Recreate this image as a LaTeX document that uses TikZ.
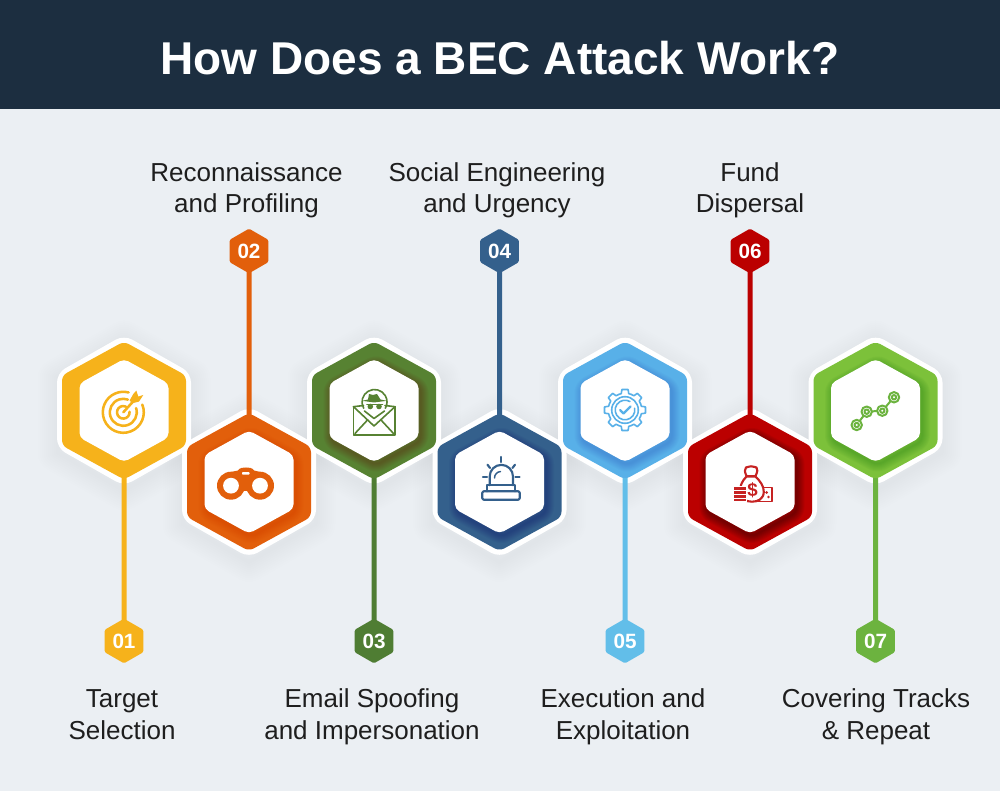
\documentclass[tikz,border=0pt]{standalone}
\usepackage{fontspec}
\setmainfont{Liberation Sans}
\usetikzlibrary{shapes.geometric}
\definecolor{bgc}{HTML}{EBEFF3}
\definecolor{headc}{HTML}{1C2E40}
\definecolor{cyel}{HTML}{F6B21B}
\definecolor{cora}{HTML}{E25F0B}
\definecolor{cgrn}{HTML}{578232}
\definecolor{cnav}{HTML}{34608C}
\definecolor{cblu}{HTML}{58B0E8}
\definecolor{cred}{HTML}{BB0000}
\definecolor{clim}{HTML}{7CC13A}
\definecolor{lblu}{HTML}{62BEE9}
\definecolor{llim}{HTML}{6CB33F}
\definecolor{lgrn}{HTML}{4F7D33}
\definecolor{micon}{HTML}{C62222}
\definecolor{txtc}{HTML}{1E1E1E}
\newcommand{\hexP}[3]{(0,-#2) -- (#1,-#3) -- (#1,#3) -- (0,#2) -- (-#1,#3) -- (-#1,-#3) -- cycle}
\newcommand{\softshadow}[1]{\begin{scope}[shift={(#1)}]
  \foreach \k in {1,...,10}{\path[draw=black,draw opacity=.0055,line width={\k*3pt},line join=round,shift={(0,5)}] \hexP{66.5}{75}{37};}
\end{scope}}
\newcommand{\whitehex}[1]{\path[shift={(#1)},fill=white,rounded corners=7pt] \hexP{67}{75.5}{37.5};}
\newcommand{\bighex}[4]{\begin{scope}[shift={(#1)}]
  \begin{scope}[rounded corners=4pt]
  \clip \hexP{62}{69}{35};
  \fill[#2] (-70,-80) rectangle (70,80);
  \foreach \k in {1,...,8}{\path[draw=#3,draw opacity=#4,line width={\k*1.5pt},line join=round,shift={(2,3.5)}] \hexP{44.5}{51}{27};}
  \end{scope}
  \path[fill=white,rounded corners=3.5pt] \hexP{44.5}{51.5}{27};
\end{scope}}
\tikzset{
  hexanchor/.style={inner sep=0pt,minimum size=0pt,outer sep=0pt},
  numhex/.style={regular polygon,regular polygon sides=6,shape border rotate=90,minimum size=33.5pt,inner sep=0pt,outer sep=0pt,rounded corners=1pt,fill=#1,text=white,font=\fontsize{15.5}{18}\selectfont\bfseries},
  conn/.style={draw=#1,line width=3.75pt,shorten <=-2pt},
  lbl/.style={align=center,text=txtc,font=\fontsize{19.5}{23.6}\selectfont},
  ico/.style={draw=#1,line width=1.2pt,line cap=round,line join=round},
}
\begin{document}
\begin{tikzpicture}[x=.75pt,y=-.75pt]
\useasboundingbox (0,0) rectangle (1000,791);
\fill[bgc] (0,0) rectangle (1000,791);
\fill[headc] (0,0) rectangle (1000,109);
\node[text=white,font=\fontsize{34.5}{40}\selectfont\bfseries] (title) at (500,58) {How Does a BEC Attack Work?};
% anchors
\node[hexanchor] (h1) at (124,410.5) {};
\node[hexanchor] (h2) at (249,482) {};
\node[hexanchor] (h3) at (374,410.5) {};
\node[hexanchor] (h4) at (499.5,482) {};
\node[hexanchor] (h5) at (625,410.5) {};
\node[hexanchor] (h6) at (750,482) {};
\node[hexanchor] (h7) at (875.5,410.5) {};
% shadows and white outlines
\softshadow{h1}\softshadow{h2}\softshadow{h3}\softshadow{h4}\softshadow{h5}\softshadow{h6}\softshadow{h7}
\whitehex{h1}\whitehex{h2}\whitehex{h3}\whitehex{h4}\whitehex{h5}\whitehex{h6}\whitehex{h7}
% number badges
\node[numhex=cyel] (n1) at (124,641) {01};
\node[numhex=cora] (n2) at (249,251) {02};
\node[numhex=lgrn] (n3) at (374,641) {03};
\node[numhex=cnav] (n4) at (499.5,251) {04};
\node[numhex=lblu] (n5) at (625,641) {05};
\node[numhex=cred] (n6) at (750,251) {06};
\node[numhex=llim] (n7) at (875.5,641) {07};
% connectors
\draw[conn=cyel] (n1) -- (h1);
\draw[conn=cora] (n2) -- (h2);
\draw[conn=lgrn] (n3) -- (h3);
\draw[conn=cnav] (n4) -- (h4);
\draw[conn=lblu] (n5) -- (h5);
\draw[conn=cred] (n6) -- (h6);
\draw[conn=llim] (n7) -- (h7);
% coloured hexagons
\bighex{h1}{cyel}{black}{0}
\bighex{h2}{cora}{red!70!black}{.015}
\bighex{h3}{cgrn}{black!60!red}{.04}
\bighex{h4}{cnav}{blue!40!black}{.04}
\bighex{h5}{cblu}{blue!60!black}{.018}
\bighex{h6}{cred}{black}{.05}
\bighex{h7}{clim}{green!40!black}{.035}
% labels
\node[lbl] (l1) at (122,717) {\strut Target\\\strut Selection};
\node[lbl] (l2) at (246.5,190.5) {\strut Reconnaissance\\\strut and Profiling};
\node[lbl] (l3) at (372,717) {\strut Email Spoofing\\\strut and Impersonation};
\node[lbl] (l4) at (497,190.5) {\strut Social Engineering\\\strut and Urgency};
\node[lbl] (l5) at (623,717) {\strut Execution and\\\strut Exploitation};
\node[lbl] (l6) at (750,190.5) {\strut Fund\\\strut Dispersal};
\node[lbl] (l7) at (876,717) {\strut Covering Tracks\\\strut \& Repeat};
% icon 1: target
\begin{scope}[shift={(123.3,412.3)},ico=cyel,line width=1.9pt]
  \draw (-22:20.5) arc[start angle=-22,end angle=285,radius=20.5];
  \draw (-18:13.5) arc[start angle=-18,end angle=290,radius=13.5];
  \draw (-5:6.3) arc[start angle=-5,end angle=295,radius=6.3];
  \draw (0,0) -- (10,-11);
  \fill[cyel,draw=none] (6.3,-11.7) -- (10,-18.3) -- (13,-21.7) -- (15,-15.7) -- (20,-17.3) -- (15.7,-10.7) -- (9,-9) -- cycle;
\end{scope}
% icon 2: binoculars
\begin{scope}
  \fill[cora] (231,472) -- (238,470.5) .. controls (240,467.5) and (243,467.5) .. (246,467.5) .. controls (249,467.5) and (252,467.5) .. (254,470.5) -- (260,472) -- (256,486) -- (247,491) -- (244,491) -- (235,486) -- cycle;
  \fill[cora] (231,485.7) circle[radius=14];
  \fill[cora] (260,485.7) circle[radius=14];
  \fill[white] (231,485.7) circle[radius=7.9];
  \fill[white] (260,485.7) circle[radius=7.9];
  \fill[white,rounded corners=.5pt] (242,472.2) rectangle (249.5,474.6);
\end{scope}
% icon 3: spy envelope
\begin{scope}[ico=cgrn]
  \draw (363.7,408.25) arc[start angle=150,end angle=390,radius=12.5];
  \draw (353.5,406.7) -- (374,426) -- (395,406.7);
  \draw (353.5,406.7) -- (353.5,435) -- (395,435) -- (395,406.7);
  \draw (353.5,406.7) -- (363.5,405.5);
  \draw (395,406.7) -- (385,405.5);
  \draw (364.5,411) -- (374,418.5) -- (384.5,411);
  \draw (355,433.5) -- (367.5,420);
  \draw (393.5,433.5) -- (381,420);
  \fill[cgrn,draw=none] (362.3,400.8) -- (368,399.5) -- (369,394) -- (373,395) -- (377,394) -- (380.5,399.5) -- (386.7,400.8) -- (374,402.5) -- cycle;
  \fill[cgrn,draw=none] (370.3,406.5) circle[radius=2.8];
  \fill[cgrn,draw=none] (379,406.5) circle[radius=2.8];
  \draw (367,404.7) -- (382.5,404.7);
\end{scope}
% icon 4: siren
\begin{scope}[ico=cnav,line width=1.6pt]
  \draw (489.7,485.3) -- (489.7,476.5) arc[start angle=180,end angle=360,radius=11.65] -- (513,485.3);
  \draw[line width=1.1pt] (494.5,478) arc[start angle=180,end angle=265,radius=6.5];
  \draw (487.3,491.3) -- (487.3,485.3) -- (515,485.3) -- (515,491.3);
  \draw[rounded corners=1pt] (482.3,491.3) rectangle (519.7,499.7);
  \draw (501.3,457) -- (501.3,462);
  \draw (487.5,464.7) -- (490,468);
  \draw (515,464.7) -- (512.5,468);
  \draw (483,477) -- (487,477);
  \draw (515.5,477) -- (519.5,477);
\end{scope}
% icon 5: gear
\begin{scope}[shift={(625,410)},ico=cblu]
  \foreach \a in {0,45,...,315}{
    \draw (\a-22.5:16.8) -- (\a-13:16.8) -- (\a-8.5:20.7) -- (\a+8.5:20.7) -- (\a+13:16.8) -- (\a+22.5:16.8);
  }
  \draw (0,0) circle[radius=13.3];
  \draw (-10:9.8) arc[start angle=-10,end angle=300,radius=9.8];
  \draw[line width=1.6pt] (-5,0) -- (-1.5,3.5) -- (5.5,-3.5);
\end{scope}
% icon 6: money bag
\begin{scope}[ico=micon]
  \draw[line width=1.3pt] (758,487.5) rectangle (771.7,501.5);
  \fill[micon,draw=none] (766.5,492.5) circle[radius=1.5];
  \fill[micon,draw=none] (768.5,497) circle[radius=1.3];
  \draw[fill=white,line width=1.6pt] (746.5,476.5) .. controls (742,481) and (739.8,486) .. (740,492) .. controls (740.3,499) and (746,501.7) .. (752,501.7) .. controls (758,501.7) and (763.5,499) .. (763.8,492) .. controls (764,486) and (760,481) .. (755.5,476.5) -- cycle;
  \draw[line width=1.6pt] (746.5,476) .. controls (744.5,472) and (744.5,469) .. (746,467.5) .. controls (748,466) and (749,467.5) .. (751,466.3) .. controls (753,467.5) and (755,466) .. (756.5,467.5) .. controls (758,469) and (757.5,472) .. (755.5,476);
  \draw[line width=2.2pt] (746.5,476) -- (755.5,476);
  \fill[white,draw=none] (733,486.5) rectangle (746.5,502.5);
  \fill[micon,draw=none] (734,487.5) rectangle (745.5,490);
  \fill[micon,draw=none] (734,491.3) rectangle (745.5,493.8);
  \fill[micon,draw=none] (734,495.1) rectangle (745.5,497.6);
  \fill[micon,draw=none] (734,498.9) rectangle (745.5,501.5);
  \node[text=micon,inner sep=0pt,font=\fontsize{14}{16}\selectfont\bfseries] (dollar) at (752.5,490) {\$};
\end{scope}
% icon 7: chain
\begin{scope}[ico=llim,line width=1.5pt]
  \foreach \cx/\cy in {856.7/425,866.7/411.7,882.3/410.7,894/397.3}{
    \draw (\cx,\cy) circle[radius=5.2];
    \draw (\cx,\cy) circle[radius=2.2];
  }
  \draw (859.8,420.8) -- (863.6,415.8);
  \draw (871.9,411.4) -- (877.1,411);
  \draw (885.8,406.8) -- (890.5,401.2);
\end{scope}
\end{tikzpicture}
\end{document}
